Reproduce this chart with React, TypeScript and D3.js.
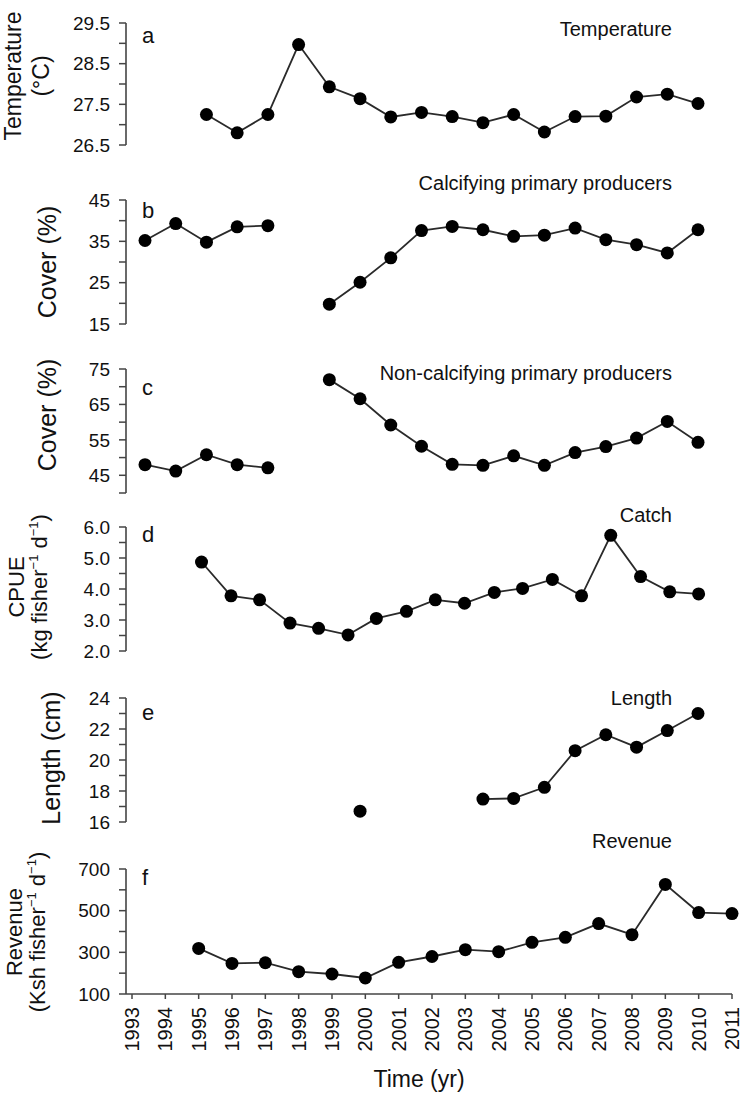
import React from 'react';
import * as d3 from 'd3';

// year categories shared by the panels
const years = [1993, 1994, 1995, 1996, 1997, 1998, 1999, 2000, 2001, 2002, 2003, 2004, 2005, 2006, 2007, 2008, 2009, 2010, 2011];

// a - temperature (°C)
const tempYears = [1995, 1996, 1997, 1998, 1999, 2000, 2001, 2002, 2003, 2004, 2005, 2006, 2007, 2008, 2009, 2010, 2011];
const temperature = [27.25, 26.8, 27.25, 28.97, 27.93, 27.64, 27.19, 27.3, 27.2, 27.05, 27.25, 26.82, 27.2, 27.21, 27.68, 27.75, 27.52];

// b - calcifying primary producers cover (%), no survey in 1998
const coverYears = [1993, 1994, 1995, 1996, 1997, 1998, 1999, 2000, 2001, 2002, 2003, 2004, 2005, 2006, 2007, 2008, 2009, 2010, 2011];
const calcifying = [35.2, 39.3, 34.8, 38.5, 38.8, null, 19.8, 25.1, 31.0, 37.6, 38.6, 37.8, 36.2, 36.5, 38.2, 35.4, 34.2, 32.2, 37.8];

// c - non-calcifying primary producers cover (%)
const nonCalcifying = [48.0, 46.2, 50.8, 48.0, 47.1, null, 72.0, 66.6, 59.2, 53.2, 48.1, 47.8, 50.5, 47.8, 51.4, 53.1, 55.5, 60.2, 54.3];

// d - catch per unit effort, sampled at its own times
const cpueTime = [1994.84, 1995.8, 1996.73, 1997.72, 1998.65, 1999.61, 2000.53, 2001.51, 2002.45, 2003.4, 2004.37, 2005.29, 2006.26, 2007.21, 2008.16, 2009.13, 2010.08, 2011.02];
const cpue = [4.87, 3.78, 3.65, 2.9, 2.73, 2.52, 3.05, 3.28, 3.65, 3.54, 3.89, 4.02, 4.31, 3.78, 5.73, 4.4, 3.91, 3.84];

// e - fish length (cm)
const lengthYears = [2000, 2001, 2002, 2003, 2004, 2005, 2006, 2007, 2008, 2009, 2010, 2011];
const fishLength = [16.7, null, null, null, 17.48, 17.52, 18.24, 20.6, 21.63, 20.83, 21.9, 23.0];

// f - revenue (Ksh fisher-1 d-1)
const revenueYears = [1995, 1996, 1997, 1998, 1999, 2000, 2001, 2002, 2003, 2004, 2005, 2006, 2007, 2008, 2009, 2010, 2011];
const revenue = [319, 247, 250, 207, 196, 177, 252, 280, 313, 303, 348, 372, 438, 385, 626, 491, 486];

// tick labels
const tempTicks = [26.5, 27.5, 28.5, 29.5];
const calcTicks = [15, 25, 35, 45];
const nonCalcTicks = [45, 55, 65, 75];
const cpueTicks = [2.0, 3.0, 4.0, 5.0, 6.0];
const lengthTicks = [16, 18, 20, 22, 24];
const revenueTicks = [100, 300, 500, 700];

const FONT = '"Liberation Sans", Arial, Helvetica, sans-serif';
const AXIS_X = 126;

type Line = { text: string; sup?: boolean }[];

const panels = [
  { letter: 'a', title: 'Temperature', x: tempYears, y: temperature, domain: [26.5, 29.5], step: 0.5, labels: tempTicks, fmt: '.1f',
    top: 23, bottom: 145, letterDy: 20, titleY: 36, labelY: 76, labSize: 23,
    ylab: [{ x: 21, parts: [{ text: 'Temperature' }] }, { x: 49, parts: [{ text: '(°C)' }] }] },
  { letter: 'b', title: 'Calcifying primary producers', x: coverYears, y: calcifying, domain: [15, 45], step: 5, labels: calcTicks, fmt: 'd',
    top: 200, bottom: 324, letterDy: 18, titleY: 190, labelY: 262, labSize: 25,
    ylab: [{ x: 56, parts: [{ text: 'Cover (%)' }] }] },
  { letter: 'c', title: 'Non-calcifying primary producers', x: coverYears, y: nonCalcifying, domain: [40, 75], step: 5, labels: nonCalcTicks, fmt: 'd',
    top: 369, bottom: 493, letterDy: 26, titleY: 380, labelY: 415, labSize: 25,
    ylab: [{ x: 56, parts: [{ text: 'Cover (%)' }] }] },
  { letter: 'd', title: 'Catch', x: cpueTime, y: cpue, domain: [2, 6], step: 0.5, labels: cpueTicks, fmt: '.1f',
    top: 527, bottom: 651, letterDy: 15, titleY: 522, labelY: 587, labSize: 22,
    ylab: [{ x: 24, parts: [{ text: 'CPUE' }] },
      { x: 47, parts: [{ text: '(kg fisher' }, { text: '−1', sup: true }, { text: ' d' }, { text: '−1', sup: true }, { text: ')' }] }] },
  { letter: 'e', title: 'Length', x: lengthYears, y: fishLength, domain: [16, 24], step: 1, labels: lengthTicks, fmt: 'd',
    top: 698, bottom: 822, letterDy: 22, titleY: 705, labelY: 758, labSize: 25,
    ylab: [{ x: 60, parts: [{ text: 'Length (cm)' }] }] },
  { letter: 'f', title: 'Revenue', x: revenueYears, y: revenue, domain: [100, 700], step: 100, labels: revenueTicks, fmt: 'd',
    top: 869, bottom: 994, letterDy: 16, titleY: 848, labelY: 932, labSize: 22,
    ylab: [{ x: 22, parts: [{ text: 'Revenue' }] },
      { x: 45, parts: [{ text: '(Ksh fisher' }, { text: '−1', sup: true }, { text: ' d' }, { text: '−1', sup: true }, { text: ')' }] }] },
];

// panels a-e and panel f were laid out with slightly different x spacing
const xTop = d3.scaleLinear().domain([1993, 2011]).range([145, 698]);
const xBottom = d3.scaleLinear().domain([1993, 2011]).range([132, 732]);

function Label({ x, y, parts, size }: { x: number; y: number; parts: Line; size: number }) {
  // rotated axis title, superscripts shifted with dy
  let out: React.ReactNode[] = [];
  parts.forEach((p, i) => {
    if (p.sup) {
      out.push(<tspan key={i} fontSize={13} dy={-9}>{p.text}</tspan>);
    } else {
      const prevSup = i > 0 && parts[i - 1].sup;
      out.push(<tspan key={i} dy={prevSup ? 9 : 0}>{p.text}</tspan>);
    }
  });
  return (
    <text transform={`translate(${x},${y}) rotate(-90)`} textAnchor="middle" dy="0.35em" fontSize={size} fill="#111">
      {out}
    </text>
  );
}

export default function App() {
  return (
    <svg width={743} height={1094} style={{ position: 'absolute', left: 0, top: 0, background: '#fff' }} fontFamily={FONT}>
      {panels.map((p, pi) => {
        const x = pi === 5 ? xBottom : xTop;
        const y = d3.scaleLinear().domain(p.domain).range([p.bottom, p.top]);
        const ticks = d3.range(p.domain[0], p.domain[1] + p.step / 2, p.step);
        const fmt = d3.format(p.fmt);
        const pts = p.x.map((t, i) => ({ t, v: p.y[i] as number | null }));
        const line = d3.line<{ t: number; v: number | null }>()
          .defined(d => d.v != null)
          .x(d => x(d.t))
          .y(d => y(d.v as number));
        return (
          <g key={p.letter}>
            <line x1={AXIS_X} x2={AXIS_X} y1={y(p.domain[1])} y2={y(p.domain[0])} stroke="#444" strokeWidth={1.6} />
            {ticks.map(t => (
              <line key={t} x1={AXIS_X - 7} x2={AXIS_X} y1={y(t)} y2={y(t)} stroke="#444" strokeWidth={1.5} />
            ))}
            {p.labels.map(t => (
              <text key={t} x={AXIS_X - 16} y={y(t)} dy="0.35em" textAnchor="end" fontSize={19} fill="#111">{fmt(t)}</text>
            ))}
            <text x={142} y={p.top + p.letterDy} fontSize={22} fill="#111">{p.letter}</text>
            <text x={672} y={p.titleY} textAnchor="end" fontSize={20} fill="#111">{p.title}</text>
            {p.ylab.map((l, li) => <Label key={li} x={l.x} y={p.labelY} parts={l.parts} size={p.labSize} />)}
            <path d={line(pts) || ''} fill="none" stroke="#2a2a2a" strokeWidth={1.8} />
            {pts.filter(d => d.v != null).map((d, i) => (
              <circle key={i} cx={x(d.t)} cy={y(d.v as number)} r={6.5} fill="#000" />
            ))}
          </g>
        );
      })}
      {/* shared time axis under panel f */}
      <line x1={AXIS_X} x2={xBottom(2011)} y1={994} y2={994} stroke="#444" strokeWidth={1.6} />
      {years.map(yr => (
        <g key={yr}>
          <line x1={xBottom(yr)} x2={xBottom(yr)} y1={994} y2={999} stroke="#444" strokeWidth={1.5} />
          <text transform={`translate(${xBottom(yr)},1007) rotate(-90)`} textAnchor="end" dy="0.35em" fontSize={20} fill="#111">{yr}</text>
        </g>
      ))}
      <text x={419} y={1087} textAnchor="middle" fontSize={23} fill="#111">Time (yr)</text>
    </svg>
  );
}
